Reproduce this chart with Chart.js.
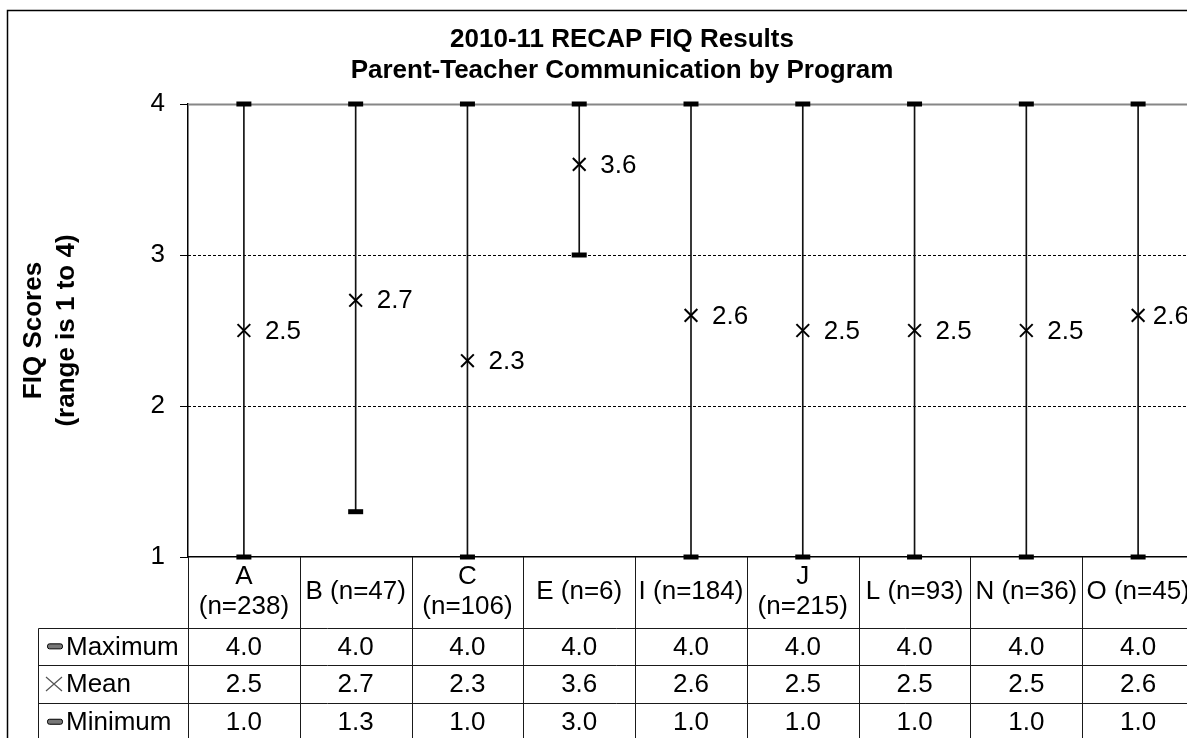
<!DOCTYPE html>
<html>
<head>
<meta charset="utf-8">
<title>2010-11 RECAP FIQ Results</title>
<script src="https://cdn.jsdelivr.net/npm/chart.js@4.4.1/dist/chart.umd.min.js"></script>
<style>
  html, body { margin: 0; padding: 0; background: #fff; overflow: hidden; }
  #chart_box { width: 1244px; height: 738px; }
</style>
</head>
<body>
<div id="chart_box"><canvas id="fiq_chart" width="1244" height="738"></canvas></div>
<script>
// data
const categories = ['A (n=238)', 'B (n=47)', 'C (n=106)', 'E (n=6)', 'I (n=184)',
                    'J (n=215)', 'L (n=93)', 'N (n=36)', 'O (n=45)'];
const maxScores  = [4.0, 4.0, 4.0, 4.0, 4.0, 4.0, 4.0, 4.0, 4.0];
const meanScores = [2.5, 2.7, 2.3, 3.6, 2.6, 2.5, 2.5, 2.5, 2.6];
const minScores  = [1.0, 1.3, 1.0, 3.0, 1.0, 1.0, 1.0, 1.0, 1.0];
const seriesNames = ['Maximum', 'Mean', 'Minimum'];
const yTicks = [1, 2, 3, 4];

const FONT = '"Liberation Sans", Arial, sans-serif';

// frame, grid lines, mean labels and the data table under the axis
const table_plugin = {
    id: 'table_plugin',
    beforeDraw(chart) {
        const ctx = chart.ctx;
        ctx.save();
        ctx.fillStyle = '#fff';
        ctx.fillRect(0, 0, chart.width, chart.height);
        ctx.strokeStyle = '#000';
        ctx.lineWidth = 1.5;
        ctx.strokeRect(7.5, 10.5, chart.width + 40, chart.height + 40);
        ctx.restore();
    },
    beforeDatasetsDraw(chart) {
        const {ctx, chartArea: area, scales: {y}} = chart;
        ctx.save();
        yTicks.forEach((v, i) => {
            if (i === 0) return;
            const py = Math.round(y.getPixelForValue(v)) + 0.5;
            ctx.beginPath();
            if (i === yTicks.length - 1) {
                ctx.strokeStyle = '#868686';
                ctx.lineWidth = 2;
                ctx.setLineDash([]);
            } else {
                ctx.strokeStyle = '#000';
                ctx.lineWidth = 1;
                ctx.setLineDash([3, 2]);
            }
            ctx.moveTo(area.left, py);
            ctx.lineTo(area.right, py);
            ctx.stroke();
        });
        ctx.restore();
    },
    afterDatasetsDraw(chart) {
        const {ctx, chartArea: area} = chart;
        const meta = chart.getDatasetMeta(2);
        ctx.save();
        ctx.font = '26px ' + FONT;
        ctx.fillStyle = '#000';
        ctx.textBaseline = 'middle';
        ctx.textAlign = 'left';
        meta.data.forEach((pt, i) => {
            const txt = meanScores[i].toFixed(1);
            const w = ctx.measureText(txt).width;
            let tx = pt.x + 21;
            if (tx + w > area.right - 5) tx = area.right - 5 - w;
            ctx.fillText(txt, tx, pt.y + 1);
        });
        ctx.restore();
    },
    afterDraw(chart) {
        const {ctx, chartArea: area, scales: {x}} = chart;
        const colW = (area.right - area.left) / categories.length;
        const top = area.bottom;
        const headBottom = top + 70.5;
        const rowH = 37.7;
        const bottom = headBottom + rowH * 3;
        const labelLeft = 38.5;

        ctx.save();
        ctx.strokeStyle = '#1a1a1a';
        ctx.lineWidth = 1;

        // column borders
        for (let i = 0; i <= categories.length; i++) {
            const edge = i < categories.length
                ? x.getPixelForValue(i) - colW / 2
                : x.getPixelForValue(i - 1) + colW / 2;
            const px = Math.round(edge) + 0.5;
            ctx.beginPath();
            ctx.moveTo(px, top);
            ctx.lineTo(px, bottom);
            ctx.stroke();
        }
        // row borders
        for (let r = 0; r <= 3; r++) {
            const py = Math.round(headBottom + r * rowH) + 0.5;
            ctx.beginPath();
            ctx.moveTo(labelLeft, py);
            ctx.lineTo(area.right, py);
            ctx.stroke();
        }
        ctx.beginPath();
        ctx.moveTo(labelLeft, Math.round(headBottom) + 0.5);
        ctx.lineTo(labelLeft, bottom);
        ctx.stroke();

        ctx.font = '26px ' + FONT;
        ctx.fillStyle = '#000';
        ctx.textBaseline = 'middle';
        ctx.textAlign = 'center';

        // header: category names, wrapped if too wide
        const headMid = (top + headBottom) / 2;
        categories.forEach((cat, i) => {
            const cx = x.getPixelForValue(i);
            if (ctx.measureText(cat).width > colW - 6) {
                const cut = cat.indexOf(' ');
                ctx.fillText(cat.slice(0, cut), cx, headMid - 15);
                ctx.fillText(cat.slice(cut + 1), cx, headMid + 15);
            } else {
                ctx.fillText(cat, cx, headMid);
            }
        });

        // value rows
        const rows = [maxScores, meanScores, minScores];
        rows.forEach((vals, r) => {
            const mid = headBottom + rowH * (r + 0.5) + 1;
            vals.forEach((v, i) => {
                ctx.fillText(v.toFixed(1), x.getPixelForValue(i), mid);
            });
        });

        // row labels with legend keys
        ctx.textAlign = 'left';
        seriesNames.forEach((name, r) => {
            const mid = headBottom + rowH * (r + 0.5);
            if (r === 1) {
                ctx.strokeStyle = '#555';
                ctx.lineWidth = 1.2;
                ctx.beginPath();
                ctx.moveTo(46, mid - 7); ctx.lineTo(62, mid + 7);
                ctx.moveTo(62, mid - 7); ctx.lineTo(46, mid + 7);
                ctx.stroke();
            } else {
                ctx.fillStyle = '#777';
                ctx.strokeStyle = '#000';
                ctx.lineWidth = 1;
                ctx.beginPath();
                ctx.roundRect(47.5, mid - 2.5, 15, 5, 2);
                ctx.fill();
                ctx.stroke();
            }
            ctx.fillStyle = '#000';
            ctx.fillText(name, 66, mid + 1);
        });
        ctx.restore();
    }
};

const markerBase = {
    type: 'line',
    showLine: false,
    clip: false,
    order: 1,
    borderColor: '#000',
    backgroundColor: '#000',
    pointBorderColor: '#000',
    pointBackgroundColor: '#000',
};

const ctx = document.getElementById('fiq_chart').getContext('2d');
window.fiqChart = new Chart(ctx, {
    type: 'bar',
    data: {
        labels: categories,
        datasets: [
            {
                type: 'bar',
                label: 'range',
                data: minScores.map((v, i) => [v, maxScores[i]]),
                backgroundColor: '#111',
                borderWidth: 0,
                barThickness: 1,
                order: 3,
            },
            Object.assign({}, markerBase, {
                label: seriesNames[0],
                data: maxScores,
                pointStyle: 'line',
                pointRadius: 7.5,
                pointBorderWidth: 5,
            }),
            Object.assign({}, markerBase, {
                label: seriesNames[1],
                data: meanScores,
                pointStyle: 'crossRot',
                pointRadius: 9,
                pointBorderWidth: 2,
            }),
            Object.assign({}, markerBase, {
                label: seriesNames[2],
                data: minScores,
                pointStyle: 'line',
                pointRadius: 7.5,
                pointBorderWidth: 5,
            }),
        ]
    },
    options: {
        responsive: false,
        animation: false,
        events: [],
        layout: {
            padding: { left: 0, right: 0, top: 0, bottom: 181 }
        },
        scales: {
            x: {
                offset: true,
                ticks: { display: false },
                grid: { display: true, drawOnChartArea: false, drawTicks: false },
                border: { display: true, color: '#000', width: 1.5 },
                afterFit: scale => { scale.height = 0; }
            },
            y: {
                min: yTicks[0],
                max: yTicks[yTicks.length - 1],
                ticks: {
                    stepSize: 1,
                    padding: 15,
                    color: '#000',
                    font: { family: FONT, size: 26 }
                },
                grid: {
                    drawOnChartArea: false,
                    drawTicks: true,
                    tickLength: 8,
                    color: '#000',
                    lineWidth: 1
                },
                border: { color: '#000', width: 1.5 },
                title: {
                    display: true,
                    text: ['FIQ Scores', '(range is 1 to 4)'],
                    color: '#000',
                    font: { family: FONT, size: 26, weight: 'bold', lineHeight: 1.3 },
                    padding: { top: 16.6, bottom: 0 }
                },
                afterFit: scale => { scale.width = 188; }
            },
            // empty right-hand axis, only keeps room on the right of the plot
            yRight: {
                position: 'right',
                min: yTicks[0],
                max: yTicks[yTicks.length - 1],
                ticks: { display: false },
                grid: { display: false, drawTicks: false },
                border: { display: false },
                afterFit: scale => { scale.width = 50; }
            }
        },
        plugins: {
            legend: { display: false },
            tooltip: { enabled: false },
            title: {
                display: true,
                text: ['2010-11 RECAP FIQ Results', 'Parent-Teacher Communication by Program'],
                color: '#000',
                font: { family: FONT, size: 26, weight: 'bold', lineHeight: 1.2 },
                padding: { top: 24, bottom: 17.6 }
            }
        }
    },
    plugins: [table_plugin]
});
</script>
</body>
</html>
